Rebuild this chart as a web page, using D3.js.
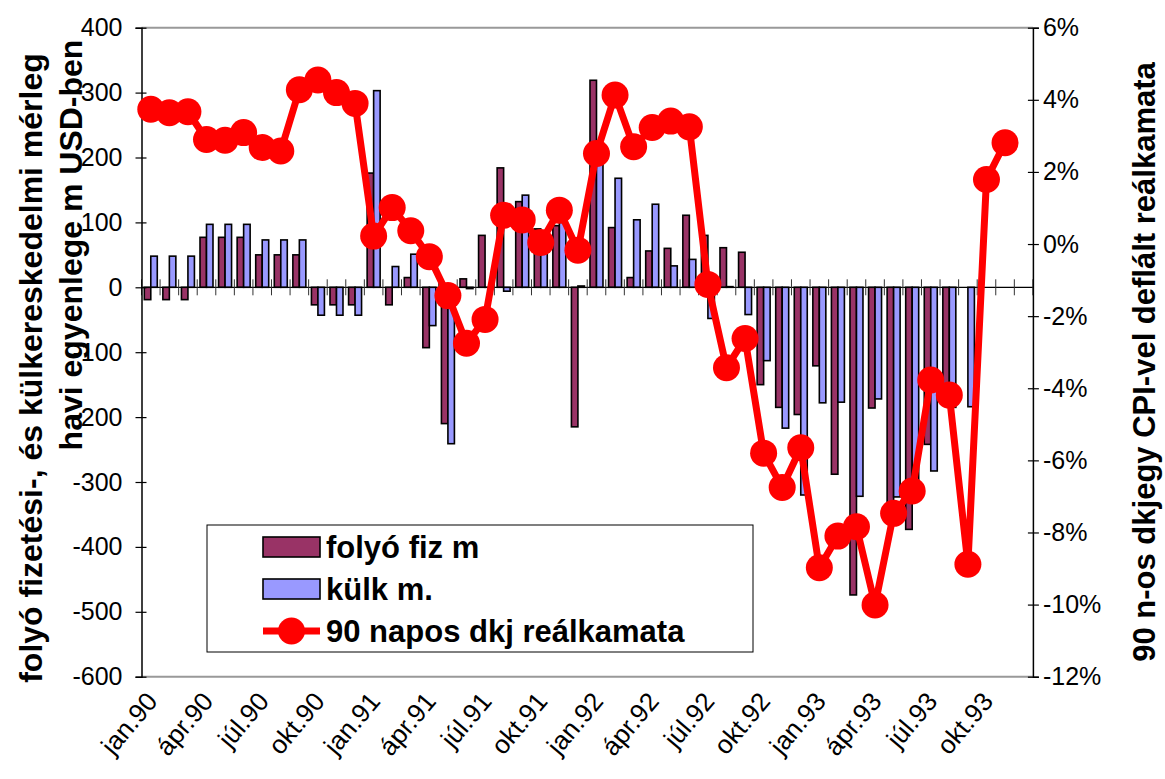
<!DOCTYPE html>
<html>
<head>
<meta charset="utf-8">
<script src="https://cdn.jsdelivr.net/npm/d3@7/dist/d3.min.js"></script>
<style>
  body { margin: 0; background: #fff; }
  svg { display: block; }
  .tick text { font-family: "Liberation Sans", Arial, sans-serif; }
</style>
</head>
<body>
<svg id="chart" width="1165" height="779"></svg>
<script>
// ---- data ----
const monthNames = ["jan","febr","márc","ápr","máj","jún","júl","aug","szept","okt","nov","dec"];
const years = ["90","91","92","93"];
const categories = [];
years.forEach(y => monthNames.forEach(m => categories.push(m + "." + y)));

// folyó fizetési mérleg (m USD)
const folyoFiz = [-19,-19,-19, 77,77,77, 50,50,50, -27,-27,-27,
                  176,-27,15, -93,-210,13, 80,184,132, 90,95,-215,
                  319,92,15, 56,60,111, 80,61,54, -150,-185,-196,
                  -121,-288,-474, -186,-340,-373, -242,-170,null, null,null,null];
// külkereskedelmi mérleg (m USD)
const kulk = [48,48,48, 97,97,97, 73,73,73, -43,-43,-43,
              303,32,51, -59,-241,-2, 0,-6,142, 85,100,2,
              190,168,104, 128,33,43, -48,1,-42, -113,-217,-320,
              -178,-177,-322, -172,-323,-300, -283,-185,-184, null,null,null];
// 90 napos dkj reálkamata (%)
const realKamat = [3.74,3.64,3.67, 2.90,2.88,3.09, 2.68,2.58,4.28, 4.55,4.20,3.90,
                   0.22,1.01,0.37, -0.35,-1.43,-2.75, -2.09,0.80,0.67, 0.04,0.94,-0.17,
                   2.51,4.13,2.70, 3.23,3.41,3.25, -1.12,-3.43,-2.62, -5.80,-6.75,-5.65,
                   -8.98,-8.10,-7.84, -10.01,-7.47,-6.85, -3.77,-4.19,-8.88, 1.79,2.81,null];

const leftTicks = [400,300,200,100,0,-100,-200,-300,-400,-500,-600];
const rightTicks = [6,4,2,0,-2,-4,-6,-8,-10,-12];
const xTickLabels = ["jan.90","ápr.90","júl.90","okt.90","jan.91","ápr.91","júl.91","okt.91",
                     "jan.92","ápr.92","júl.92","okt.92","jan.93","ápr.93","júl.93","okt.93"];
const seriesNames = ["folyó fiz m","külk m.","90 napos dkj reálkamata"];
const leftTitle = ["folyó fizetési-, és külkereskedelmi mérleg","havi egyenlege m USD-ben"];
const rightTitle = "90 n-os dkjegy CPI-vel deflált reálkamata";

// ---- layout ----
const svg = d3.select("#chart");
const L = 141.5, R = 1032.9, T = 27.7, B = 676.7;
const colDark = "#993366", colBlue = "#9999FF", colRed = "#FF0000";
const fontMain = "'Liberation Sans',Arial,sans-serif";

const x0 = d3.scaleBand().domain(categories).range([L, R]).padding(0);
const x1 = d3.scaleBand().domain(["folyo","kulk"]).range([0, x0.bandwidth()]).paddingInner(0).paddingOuter(0.43);
const yL = d3.scaleLinear().domain([-600, 400]).range([B, T]);
const yR = d3.scaleLinear().domain([-12, 6]).range([B, T]);

// plot frame (top / bottom gray)
svg.append("line").attr("x1", L).attr("x2", R).attr("y1", T).attr("y2", T).attr("stroke", "#999").attr("stroke-width", 2);
svg.append("line").attr("x1", L).attr("x2", R).attr("y1", B).attr("y2", B).attr("stroke", "#999").attr("stroke-width", 2);

// bars
const barData = [];
categories.forEach((c, i) => {
  if (folyoFiz[i] !== null) barData.push({c, key: "folyo", v: folyoFiz[i], col: colDark});
  if (kulk[i] !== null) barData.push({c, key: "kulk", v: kulk[i], col: colBlue});
});
svg.append("g").selectAll("rect").data(barData).join("rect")
  .attr("x", d => x0(d.c) + x1(d.key))
  .attr("width", x1.bandwidth())
  .attr("y", d => Math.min(yL(d.v), yL(0)))
  .attr("height", d => Math.max(Math.abs(yL(d.v) - yL(0)), 0.01))
  .attr("fill", d => d.col)
  .attr("stroke", "#000")
  .attr("stroke-width", 1.6);

// zero line with crossing category ticks
const y0 = yL(0);
svg.append("line").attr("x1", L).attr("x2", R).attr("y1", y0).attr("y2", y0).attr("stroke", "#000").attr("stroke-width", 1.3);
const bounds = categories.map(c => x0(c)).concat([R]);
svg.append("g").selectAll("line").data(bounds).join("line")
  .attr("x1", d => d).attr("x2", d => d)
  .attr("y1", y0 - 8).attr("y2", y0 + 8)
  .attr("stroke", "#333").attr("stroke-width", 1);

// left axis
const axL = svg.append("g").attr("transform", `translate(${L},0)`)
  .call(d3.axisLeft(yL).tickValues(leftTicks).tickSize(6).tickPadding(13).tickFormat(d => String(d)));
axL.select(".domain").attr("stroke", "#000").attr("stroke-width", 1.5);
axL.selectAll(".tick line").attr("x1", 5).attr("stroke", "#000").attr("stroke-width", 1.2);
axL.selectAll(".tick text").attr("font-size", 25).attr("fill", "#000");

// right axis
const axR = svg.append("g").attr("transform", `translate(${R},0)`)
  .call(d3.axisRight(yR).tickValues(rightTicks).tickSize(6).tickPadding(4).tickFormat(d => String(d) + "%"));
axR.select(".domain").attr("stroke", "#000").attr("stroke-width", 1.5);
axR.selectAll(".tick line").attr("x1", -5).attr("stroke", "#000").attr("stroke-width", 1.2);
axR.selectAll(".tick text").attr("font-size", 25).attr("fill", "#000");

// x labels
const labelIdx = d3.range(0, 48, 3);
svg.append("g").selectAll("text").data(labelIdx).join("text")
  .attr("transform", i => `translate(${x0(categories[i]) + x0.bandwidth() / 2 + 8},${702}) rotate(-50)`)
  .attr("text-anchor", "end")
  .attr("font-family", "'Liberation Sans Narrow','Arial Narrow','Liberation Sans',sans-serif")
  .attr("font-size", 26)
  .attr("fill", "#000")
  .text((i, k) => xTickLabels[k]);

// line series
const lineGen = d3.line()
  .defined(d => d.v !== null)
  .x(d => x0(d.c) + x0.bandwidth() / 2)
  .y(d => yR(d.v));
const lineData = categories.map((c, i) => ({c, v: realKamat[i]}));
svg.append("path").datum(lineData).attr("d", lineGen)
  .attr("fill", "none").attr("stroke", colRed).attr("stroke-width", 7).attr("stroke-linejoin", "round");
svg.append("g").selectAll("circle").data(lineData.filter(d => d.v !== null)).join("circle")
  .attr("cx", d => x0(d.c) + x0.bandwidth() / 2)
  .attr("cy", d => yR(d.v))
  .attr("r", 13.5)
  .attr("fill", colRed);

// legend
const lg = svg.append("g");
lg.append("rect").attr("x", 207).attr("y", 525).attr("width", 546).attr("height", 127)
  .attr("fill", "#fff").attr("stroke", "#000").attr("stroke-width", 1);
const lgY = [547, 589, 631];
lg.append("rect").attr("x", 263).attr("y", lgY[0] - 10).attr("width", 57).attr("height", 20)
  .attr("fill", colDark).attr("stroke", "#000").attr("stroke-width", 1.6);
lg.append("rect").attr("x", 263).attr("y", lgY[1] - 10).attr("width", 57).attr("height", 20)
  .attr("fill", colBlue).attr("stroke", "#000").attr("stroke-width", 1.6);
lg.append("line").attr("x1", 263).attr("x2", 320).attr("y1", lgY[2]).attr("y2", lgY[2])
  .attr("stroke", colRed).attr("stroke-width", 7);
lg.append("circle").attr("cx", 291.5).attr("cy", lgY[2]).attr("r", 13.5).attr("fill", colRed);
lg.selectAll("text.lt").data(seriesNames).join("text").attr("class", "lt")
  .attr("x", 326).attr("y", (d, i) => lgY[i] + 11)
  .attr("font-family", fontMain)
  .attr("font-weight", "bold").attr("font-size", 31).attr("fill", "#000")
  .text(d => d);

// axis titles
svg.append("text").attr("transform", "translate(42,368) rotate(-90)")
  .attr("text-anchor", "middle").attr("font-family", fontMain)
  .attr("font-weight", "bold").attr("font-size", 32).text(leftTitle[0]);
svg.append("text").attr("transform", "translate(82,245) rotate(-90)")
  .attr("text-anchor", "middle").attr("font-family", fontMain)
  .attr("font-weight", "bold").attr("font-size", 32).text(leftTitle[1]);
svg.append("text").attr("transform", "translate(1155,362) rotate(-90)")
  .attr("text-anchor", "middle").attr("font-family", fontMain)
  .attr("font-weight", "bold").attr("font-size", 31).text(rightTitle);
</script>
</body>
</html>
